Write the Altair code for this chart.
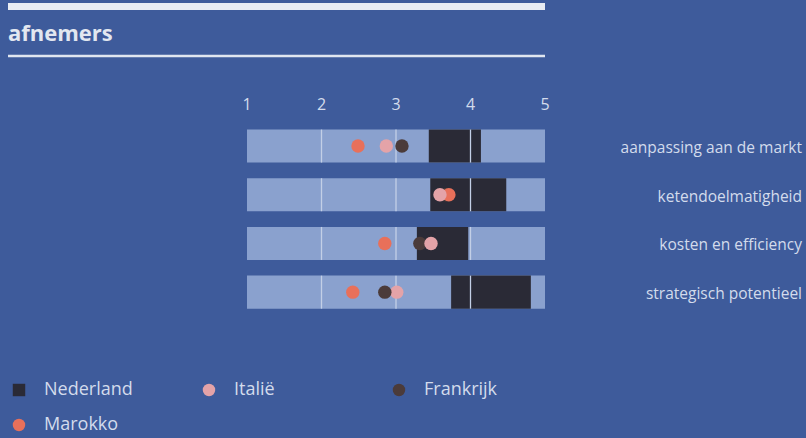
import altair as alt
import pandas as pd

# ---- data ----
categories = ["aanpassing aan de markt", "ketendoelmatigheid",
              "kosten en efficiency", "strategisch potentieel"]
nl_start = [3.44, 3.46, 3.28, 3.74]
nl_end = [4.14, 4.48, 3.97, 4.81]
italie = [2.87, 3.59, 3.47, 3.01]
frankrijk = [3.08, 3.67, 3.32, 2.85]
marokko = [2.49, 3.71, 2.85, 2.42]
scale_min = [1, 1, 1, 1]
scale_max = [5, 5, 5, 5]
tick_values = [1, 2, 3, 4, 5]
grid_values = [2, 3, 4]
countries = ["Nederland", "Italië", "Frankrijk", "Marokko"]
country_colors = ["#2a2a36", "#e4a3a8", "#4b3b3a", "#e8705a"]
country_shapes = ["square", "circle", "circle", "circle"]
stack_order = [["Marokko", "Italië", "Frankrijk"],
               ["Frankrijk", "Marokko", "Italië"],
               ["Marokko", "Frankrijk", "Italië"],
               ["Marokko", "Italië", "Frankrijk"]]
title_text = ["afnemers"]

BG = "#3e5b9b"
LIGHT = "#8aa1ce"
TXT = "#d3dbec"
FONT = "Open Sans"

series = {"Italië": italie, "Frankrijk": frankrijk, "Marokko": marokko}

rows_df = pd.DataFrame({"cat": categories, "lo": scale_min, "hi": scale_max,
                        "s": nl_start, "e": nl_end})
pts = []
for i, c in enumerate(categories):
    for land in stack_order[i]:
        pts.append({"cat": c, "land": land, "v": series[land][i]})
pts_df = pd.DataFrame(pts)
grid_df = pd.DataFrame([{"cat": c, "g": g} for c in categories for g in grid_values])
ticks_df = pd.DataFrame({"t": tick_values, "lab": [str(t) for t in tick_values]})
title_df = pd.DataFrame({"txt": title_text})
one = pd.DataFrame({"a": [0]})

xs = alt.Scale(domain=[1, 5], range=[247, 545], nice=False, zero=False)
ys = alt.Scale(domain=categories, range=[121.7, 316.5], paddingInner=0.32, paddingOuter=0.16)

X = lambda f: alt.X(f, type="quantitative", scale=xs, axis=None)
Y = alt.Y("cat:N", scale=ys, axis=None, sort=categories)

top_line = alt.Chart(one).mark_rule(color="#e8ecf3", strokeWidth=7).encode(
    x=alt.value(8), x2=alt.value(545), y=alt.value(6.5))
bot_line = alt.Chart(one).mark_rule(color="#e0e6f0", strokeWidth=2.5).encode(
    x=alt.value(8), x2=alt.value(545), y=alt.value(56))
title = alt.Chart(title_df).mark_text(align="left", baseline="alphabetic", font=FONT,
                                      fontSize=22, fontWeight="bold", color="#e2e7f0").encode(
    x=alt.value(8), y=alt.value(41), text="txt:N")

light = alt.Chart(rows_df).mark_bar(color=LIGHT, opacity=1).encode(
    x=X("lo"), x2="hi", y=Y)
dark = alt.Chart(rows_df).mark_bar(color="#2a2a36", opacity=1).encode(
    x=X("s"), x2="e", y=Y)
grid = alt.Chart(grid_df).mark_tick(orient="vertical", thickness=1.3, size=33,
                                    color="#c3cfe6", opacity=1).encode(
    x=X("g"), y=Y)

leg = alt.Legend(orient="none", legendX=10, legendY=381, direction="horizontal",
                 columns=3, gridAlign="all", title=None, labelFontSize=18,
                 labelColor=TXT, labelFont=FONT, symbolSize=155, symbolStrokeWidth=0,
                 columnPadding=67, rowPadding=17, labelOffset=16, symbolOpacity=1)
points = alt.Chart(pts_df).mark_point(filled=True, size=180, opacity=1).encode(
    x=X("v"), y=Y,
    color=alt.Color("land:N", scale=alt.Scale(domain=countries, range=country_colors),
                    legend=leg),
    shape=alt.Shape("land:N", scale=alt.Scale(domain=countries, range=country_shapes),
                    legend=leg),
)

tick_labels = alt.Chart(ticks_df).mark_text(font=FONT, fontSize=16, color=TXT,
                                            baseline="middle").encode(
    x=X("t"), y=alt.value(105), text="lab:N")
row_labels = alt.Chart(rows_df).mark_text(font=FONT, fontSize=15.5, color=TXT,
                                          align="right", baseline="middle", dy=2).encode(
    x=alt.value(802), y=Y, text="cat:N")

chart = alt.layer(top_line, bot_line, title, light, dark, grid, points,
                  tick_labels, row_labels).properties(
    width=806, height=438, autosize="none", padding=0, background=BG
).configure_view(stroke=None)

chart.save("out.html", embed_options={"renderer": "svg", "actions": False})
